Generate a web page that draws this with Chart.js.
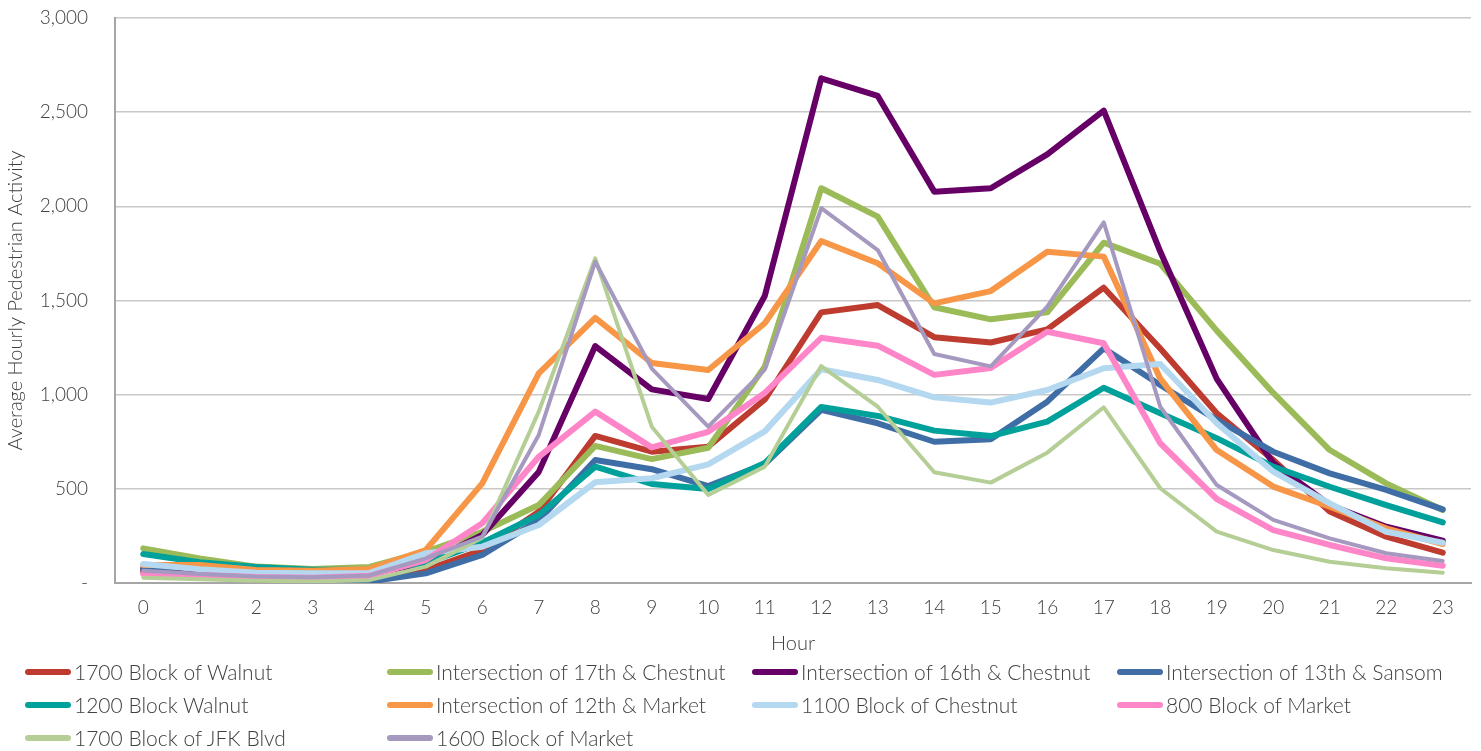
<!DOCTYPE html>
<html>
<head>
<meta charset="utf-8">
<script src="https://cdn.jsdelivr.net/npm/chart.js@4/dist/chart.umd.min.js"></script>
<style>
  body { margin: 0; background: #fff; font-family: Lato, "Open Sans", sans-serif; font-weight: 300; }
  #wrap { position: relative; width: 1481px; height: 751px; }
  #chartBox { position: absolute; left: 0; top: 0; width: 1481px; height: 660px; }
  #legend { position: absolute; left: 25px; top: 655px; display: grid;
            grid-template-columns: 362px 365px 365px 340px; row-gap: 0; }
  .item { display: flex; align-items: center; height: 33px; font-size: 21px; color: #404040; white-space: nowrap; }
  .mark { width: 46px; height: 6px; border-radius: 3px; margin-right: 3px; flex: none; }
</style>
</head>
<body>
<div id="wrap">
  <div id="chartBox"><canvas id="pedChart"></canvas></div>
  <div id="legend"></div>
</div>
<script>
var hours = ['0','1','2','3','4','5','6','7','8','9','10','11','12','13','14','15','16','17','18','19','20','21','22','23'];

var seriesNames = ['1700 Block of Walnut', 'Intersection of 17th & Chestnut', 'Intersection of 16th & Chestnut',
  'Intersection of 13th & Sansom', '1200 Block Walnut', 'Intersection of 12th & Market',
  '1100 Block of Chestnut', '800 Block of Market', '1700 Block of JFK Blvd', '1600 Block of Market'];

var walnut1700   = [60,35,20,12,5,69,175,379,781,697,724,974,1437,1476,1305,1277,1347,1568,1245,901,653,379,246,161];
var chestnut17   = [184,130,87,75,85,166,272,414,728,658,718,1149,2096,1945,1464,1400,1437,1807,1695,1340,1009,706,529,388];
var chestnut16   = [75,57,50,45,50,105,255,590,1258,1028,977,1524,2680,2586,2078,2096,2276,2508,1760,1084,636,414,299,225];
var sansom13     = [75,35,20,12,8,51,149,334,653,604,515,632,919,848,750,763,963,1246,1051,866,697,582,494,391];
var walnut1200   = [154,110,85,70,70,105,214,361,618,526,499,637,935,887,809,780,857,1037,901,769,618,511,414,322];
var market12     = [95,95,69,65,75,175,529,1113,1408,1168,1131,1379,1816,1698,1485,1550,1759,1733,1085,706,512,405,290,207];
var chestnut1100 = [101,73,55,52,53,158,193,308,535,556,630,805,1135,1078,986,958,1025,1140,1163,848,591,423,272,214];
var market800    = [48,43,32,28,38,122,317,670,910,720,803,1009,1302,1260,1105,1142,1334,1273,742,446,281,202,131,92];
var jfk1700      = [28,20,12,8,15,87,240,910,1724,830,467,618,1152,936,588,533,692,933,503,273,175,113,78,55];
var market1600   = [65,48,34,30,40,131,246,786,1706,1138,830,1133,1990,1768,1216,1150,1467,1915,936,520,335,237,158,117];

var yTicks = [0, 500, 1000, 1500, 2000, 2500, 3000];

var allSeries = [walnut1700, chestnut17, chestnut16, sansom13, walnut1200, market12, chestnut1100, market800, jfk1700, market1600];
var colors = ['#BE3B2F', '#9BBB59', '#660066', '#3F6EA6', '#00A19A', '#F79646', '#B4D8F0', '#FF85C9', '#B5CE96', '#A699BF'];
var widths = [6, 6, 6, 6, 6, 6, 6, 6, 4, 4];

var datasets = allSeries.map((vals, i) => ({
  label: seriesNames[i],
  data: vals,
  borderColor: colors[i],
  backgroundColor: colors[i],
  borderWidth: widths[i],
  pointRadius: 0,
  tension: 0,
  fill: false,
  borderCapStyle: 'round',
  borderJoinStyle: 'round',
  order: allSeries.length - i   // later series on top, like the original
}));

var ctx = document.getElementById('pedChart').getContext('2d');
var tickFont = { family: 'Lato, "Open Sans", sans-serif', size: 19, weight: 300 };

var pedChart = new Chart(ctx, {
  type: 'line',
  data: { labels: hours, datasets: datasets },
  options: {
    responsive: true,
    maintainAspectRatio: false,
    animation: false,
    layout: { padding: { top: 18, right: 10, left: 0, bottom: 0 } },
    plugins: { legend: { display: false }, tooltip: { enabled: false } },
    scales: {
      x: {
        offset: true,
        grid: { display: false, drawTicks: false },
        border: { display: true, color: '#A6A6A6', width: 2 },
        ticks: { color: '#404040', font: tickFont, padding: 13, maxRotation: 0, autoSkip: false },
        title: { display: true, text: 'Hour', color: '#404040', font: { family: tickFont.family, size: 20, weight: 300 }, padding: { top: 7 } },
        afterFit: (scale) => { scale.height = 77; scale.paddingLeft = 0; scale.paddingRight = 0; }
      },
      y: {
        min: 0,
        max: 3000,
        afterBuildTicks: (scale) => { scale.ticks = yTicks.map(v => ({ value: v })); },
        grid: { color: '#C8C8C8', lineWidth: 1.5, drawTicks: false },
        border: { display: true, color: '#A6A6A6', width: 2 },
        ticks: {
          color: '#404040', font: tickFont, padding: 27,
          callback: (v) => v === 0 ? '-' : v.toLocaleString('en-US')
        },
        title: { display: true, text: 'Average Hourly Pedestrian Activity', color: '#404040', font: { family: tickFont.family, size: 20, weight: 300 }, padding: { bottom: 0 } },
        afterFit: (scale) => { scale.width = 115; scale.paddingTop = 0; scale.paddingBottom = 0; }
      }
    }
  }
});

// legend in a 4 column grid, built from the chart's datasets
var legendBox = document.getElementById('legend');
pedChart.data.datasets.forEach((ds) => {
  var item = document.createElement('div');
  item.className = 'item';
  item.innerHTML = `<span class="mark" style="background:${ds.borderColor}"></span><span>${ds.label}</span>`;
  legendBox.appendChild(item);
});
</script>
</body>
</html>
